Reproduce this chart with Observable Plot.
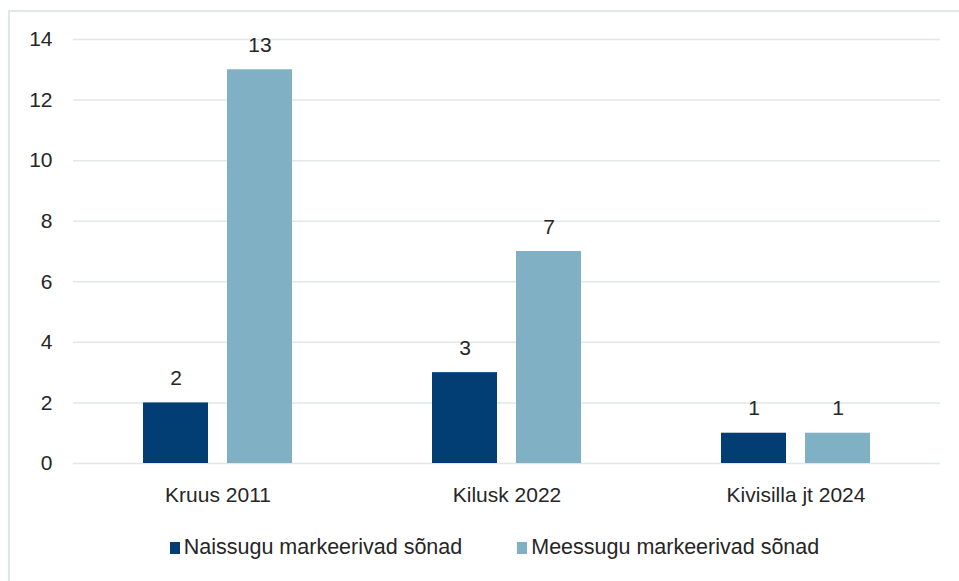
<!DOCTYPE html>
<html>
<head>
<meta charset="utf-8">
<script src="https://cdn.jsdelivr.net/npm/d3@7"></script>
<script src="https://cdn.jsdelivr.net/npm/@observablehq/plot@0.6"></script>
<style>
  html, body { margin: 0; padding: 0; background: #fff; width: 959px; height: 581px; overflow: hidden; }
  body { position: relative; font-family: "Liberation Sans", Arial, sans-serif; color: #262626; }
  #frame { position: absolute; left: 8px; top: 10px; width: 1000px; height: 700px; border-left: 2px solid #dfe7e7; border-top: 2px solid #dfe7e7; box-sizing: border-box; }
  #chart { position: absolute; left: 0; top: 0; }
  #legend { position: absolute; left: 0; top: 535px; width: 959px; display: flex; justify-content: center; gap: 55px; font-size: 21.5px; color: #262626; padding-left: 30px; box-sizing: border-box; }
  .item { display: flex; align-items: center; gap: 4px; }
  .sw { width: 10px; height: 12px; display: inline-block; }
</style>
</head>
<body>
<div id="frame"></div>
<div id="chart"></div>
<div id="legend"></div>
<script>
const categories = ["Kruus 2011", "Kilusk 2022", "Kivisilla jt 2024"];
const seriesNames = ["Naissugu markeerivad sõnad", "Meessugu markeerivad sõnad"];
const naissugu = [2, 3, 1];
const meessugu = [13, 7, 1];
const colors = ["#023e74", "#80b0c3"];
const yTicks = [0, 2, 4, 6, 8, 10, 12, 14];

const data = [];
categories.forEach((c, i) => {
  data.push({cat: c, series: seriesNames[0], value: naissugu[i]});
  data.push({cat: c, series: seriesNames[1], value: meessugu[i]});
});

const chart = Plot.plot({
  width: 959,
  height: 520,
  marginLeft: 73,
  marginRight: 19,
  marginTop: 39,
  marginBottom: 57,
  style: {fontFamily: "Liberation Sans, Arial, sans-serif", fontSize: "21px", color: "#262626", background: "transparent"},
  fx: {domain: categories, padding: 0, label: null, axis: "bottom", tickSize: 0, tickPadding: 24},
  x: {domain: seriesNames, paddingInner: 0.226, paddingOuter: 0.833, axis: null},
  y: {domain: [0, 14], ticks: yTicks, tickSize: 0, tickPadding: 21, label: null},
  color: {domain: seriesNames, range: colors},
  marks: [
    Plot.ruleY(yTicks, {stroke: "#dfe7e7", strokeWidth: 1.5, strokeOpacity: 1}),
    Plot.barY(data, {fx: "cat", x: "series", y: "value", fill: "series"}),
    Plot.text(data, {fx: "cat", x: "series", y: "value", text: d => String(d.value), lineAnchor: "bottom", dy: -18, fill: "#262626", fontSize: 21})
  ]
});
document.getElementById("chart").appendChild(chart);

const legend = document.getElementById("legend");
seriesNames.forEach((name, i) => {
  const item = document.createElement("div");
  item.className = "item";
  const sw = document.createElement("span");
  sw.className = "sw";
  sw.style.background = colors[i];
  const label = document.createElement("span");
  label.textContent = name;
  item.appendChild(sw);
  item.appendChild(label);
  legend.appendChild(item);
});
</script>
</body>
</html>
